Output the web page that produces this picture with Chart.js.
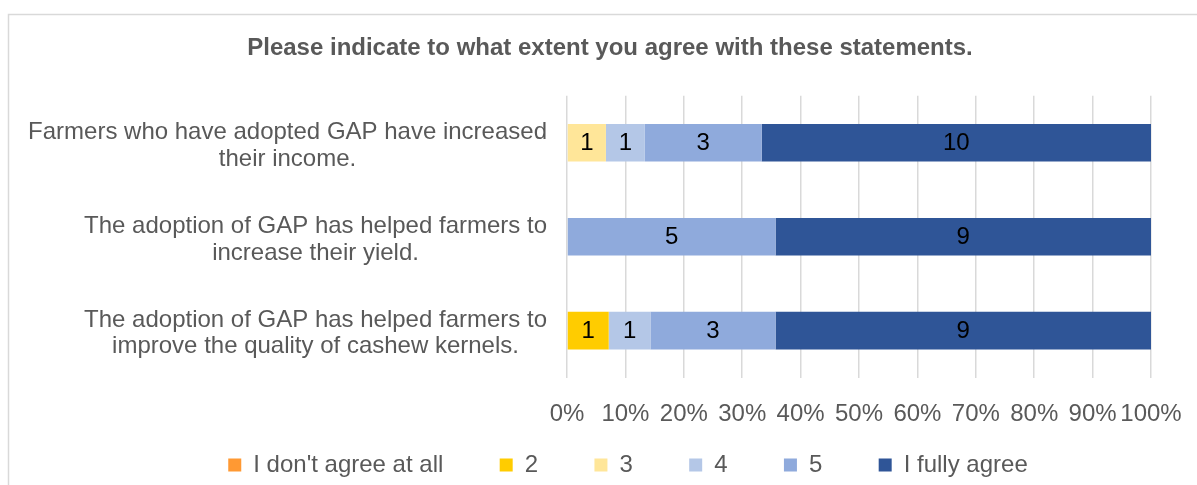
<!DOCTYPE html>
<html>
<head>
<meta charset="utf-8">
<script src="https://cdn.jsdelivr.net/npm/chart.js@4/dist/chart.umd.min.js"></script>
<style>
  html, body { margin: 0; padding: 0; overflow: hidden; background: #fff; }
  #wrap { position: absolute; left: 0; top: 0; }
</style>
</head>
<body>
<div id="wrap"><canvas id="agreeChart" width="1234" height="522"></canvas></div>
<script>
// statements (already wrapped into lines)
const statements = [
    ['Farmers who have adopted GAP have increased', 'their income.'],
    ['The adoption of GAP has helped farmers to', 'increase their yield.'],
    ['The adoption of GAP has helped farmers to', 'improve the quality of cashew kernels.']
];

// number of answers per level, one value per statement
const notAtAll = [0, 0, 0];
const level2 = [0, 0, 1];
const level3 = [1, 0, 0];
const level4 = [1, 0, 1];
const level5 = [3, 5, 3];
const fullyAgree = [10, 9, 9];

const levelNames = ["I don't agree at all", '2', '3', '4', '5', 'I fully agree'];
const levelColors = ['#FF9933', '#FFCC00', '#FFE699', '#B4C7E7', '#8FAADC', '#2F5597'];
const pctTicks = [0, 10, 20, 30, 40, 50, 60, 70, 80, 90, 100];

const FONT = '"Liberation Sans", Arial, sans-serif';
const GREY = '#595959';

const levels = [notAtAll, level2, level3, level4, level5, fullyAgree];
const totals = statements.map((s, i) => levels.reduce((sum, arr) => sum + arr[i], 0));

const datasets = levels.map((counts, k) => ({
    label: levelNames[k],
    counts: counts,
    data: counts.map((n, i) => n / totals[i] * 100),
    backgroundColor: levelColors[k],
    borderWidth: 0,
    barPercentage: 0.4,
    categoryPercentage: 1
}));

// light frame around the whole chart
const frame = {
    id: 'frame',
    beforeDraw(chart) {
        const ctx = chart.ctx;
        ctx.save();
        ctx.fillStyle = '#fff';
        ctx.fillRect(0, 0, chart.width, chart.height);
        ctx.strokeStyle = '#D9D9D9';
        ctx.lineWidth = 1.5;
        ctx.strokeRect(8.5, 14.5, chart.width - 17, chart.height + 40);
        ctx.restore();
    }
};

// legend sits closer to the axis labels than the layout would put it,
// title is a little left of centre
const blockNudge = {
    id: 'blockNudge',
    afterLayout(chart) {
        const lg = chart.legend;
        lg.top -= 35;
        lg.bottom -= 35;
        lg.left += 11;
        lg.right += 11;
        const tb = chart.titleBlock;
        tb.left -= 7;
        tb.right -= 7;
    }
};

// center every statement on its own widest line, right-aligned as a block
const statementAlign = {
    id: 'statementAlign',
    beforeDraw(chart) {
        const scale = chart.scales.y;
        const pad = scale.options.ticks.padding;
        const ctx = chart.ctx;
        scale.getLabelItems().forEach(item => {
            ctx.save();
            ctx.font = item.font.string;
            const lines = Array.isArray(item.label) ? item.label : [item.label];
            const w = Math.max(...lines.map(l => ctx.measureText(l).width));
            ctx.restore();
            item.options.translation[0] = scale.right - pad - w / 2;
            item.options.translation[1] += 3;
        });
    }
};

// answer counts written in the middle of each segment
const countLabels = {
    id: 'countLabels',
    afterDatasetsDraw(chart) {
        const ctx = chart.ctx;
        ctx.save();
        ctx.font = '24px ' + FONT;
        ctx.fillStyle = '#000';
        ctx.textAlign = 'center';
        ctx.textBaseline = 'middle';
        chart.data.datasets.forEach((ds, i) => {
            chart.getDatasetMeta(i).data.forEach((bar, j) => {
                const n = ds.counts[j];
                if (!n) return;
                const p = bar.getCenterPoint();
                ctx.fillText(String(n), p.x, p.y + 1);
            });
        });
        ctx.restore();
    }
};

new Chart(document.getElementById('agreeChart'), {
    type: 'bar',
    data: { labels: statements, datasets: datasets },
    plugins: [frame, blockNudge, statementAlign, countLabels],
    options: {
        indexAxis: 'y',
        responsive: false,
        animation: false,
        events: [],
        layout: { padding: 0 },
        scales: {
            x: {
                stacked: true,
                min: 0,
                max: 100,
                afterBuildTicks(s) { s.ticks = pctTicks.map(v => ({ value: v })); },
                afterFit(s) { s.height = 54; },
                border: { display: false },
                grid: { color: '#D9D9D9', lineWidth: 1.5, drawTicks: false },
                ticks: {
                    padding: 22,
                    autoSkip: false,
                    maxRotation: 0,
                    color: GREY,
                    font: { family: FONT, size: 24 },
                    callback: v => v + '%'
                }
            },
            y: {
                stacked: true,
                afterFit(s) { s.width = 567; },
                border: { display: false },
                grid: { display: false, drawTicks: false },
                ticks: {
                    padding: 20,
                    crossAlign: 'center',
                    color: GREY,
                    font: { family: FONT, size: 24, lineHeight: 1.1 }
                }
            },
            yRight: {
                type: 'linear',
                position: 'right',
                afterFit(s) { s.width = 1234 - 1151; },
                border: { display: false },
                grid: { display: false },
                ticks: { display: false }
            }
        },
        plugins: {
            tooltip: { enabled: false },
            title: {
                display: true,
                text: 'Please indicate to what extent you agree with these statements.',
                color: GREY,
                font: { family: FONT, size: 24, weight: 'bold' },
                padding: { top: 34, bottom: 33 }
            },
            legend: {
                position: 'bottom',
                labels: {
                    boxWidth: 13,
                    boxHeight: 13,
                    padding: 56.4,
                    color: GREY,
                    font: { family: FONT, size: 24 }
                }
            }
        }
    }
});
</script>
</body>
</html>
